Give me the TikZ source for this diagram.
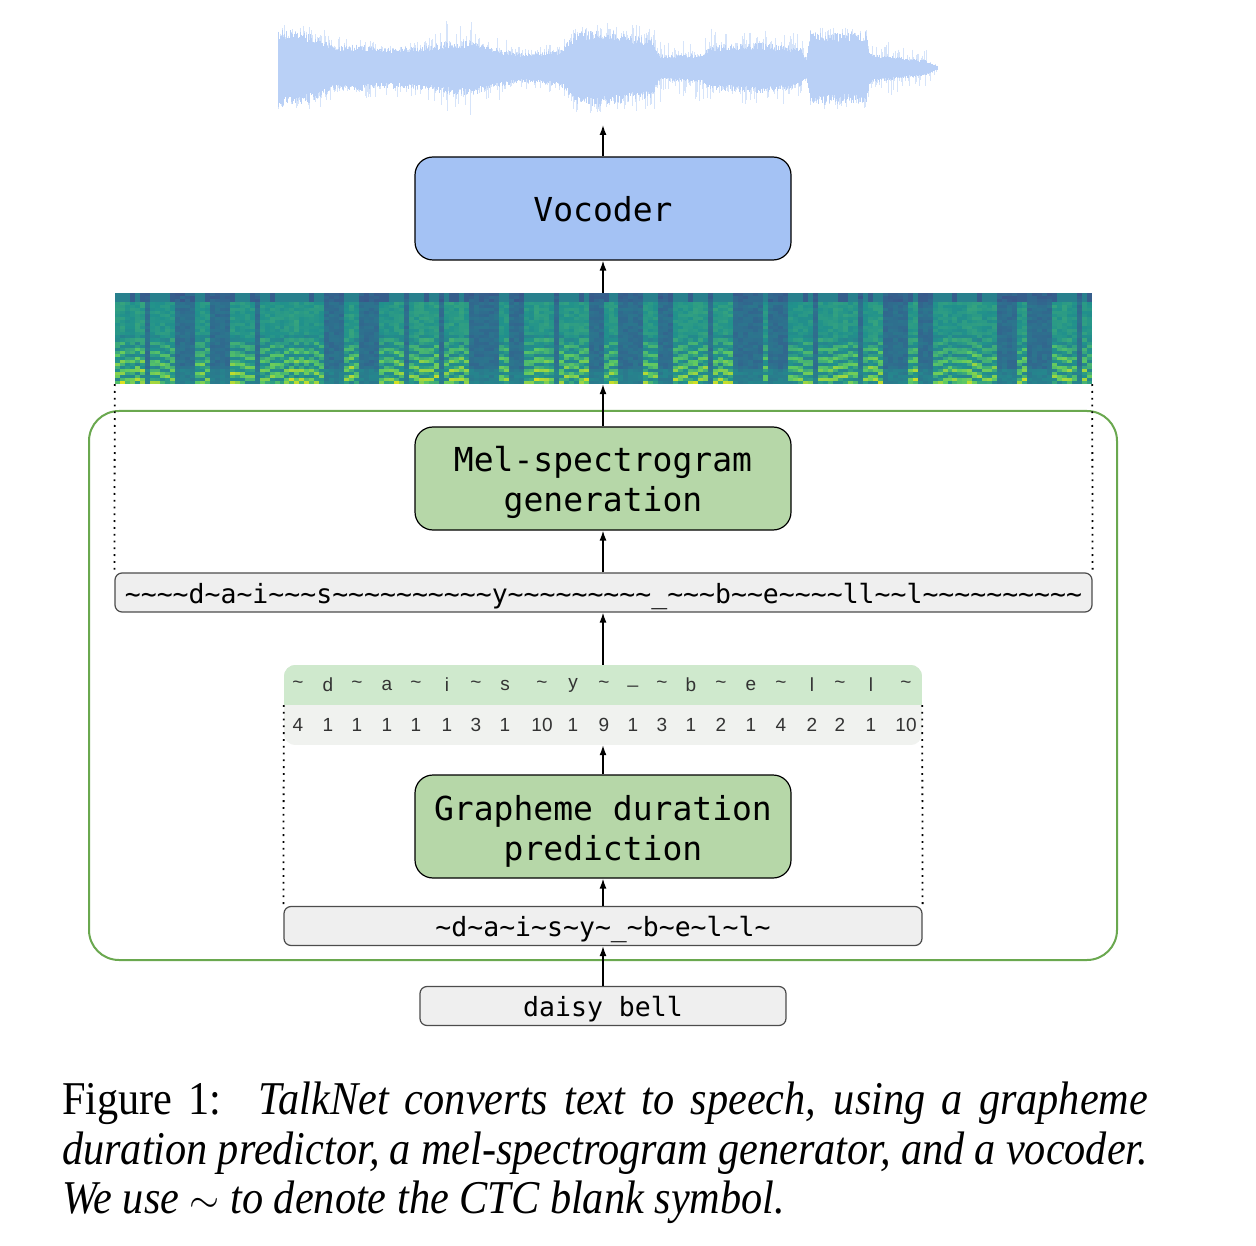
\documentclass[tikz,border=0pt]{standalone}
\usepackage{fontspec}
\setmainfont{Liberation Serif}
\newfontfamily\capfont[FakeStretch=0.9]{Liberation Serif}
\newfontfamily\monofont{DejaVu Sans Mono}
\newfontfamily\tabfont{Liberation Sans}
\usetikzlibrary{arrows.meta}
\definecolor{vocblue}{HTML}{A4C2F4}
\definecolor{melgreen}{HTML}{B6D7A8}
\definecolor{framegreen}{HTML}{6AA84F}
\definecolor{boxgray}{HTML}{EFEFEF}
\definecolor{tabgreen}{HTML}{CFE9CD}
\definecolor{tabgray}{HTML}{F0F2EF}
\definecolor{wavecol}{HTML}{B9D0F6}
\definecolor{wavelight}{HTML}{D6E4FA}
\definecolor{s0}{HTML}{443A83}
\definecolor{s1}{HTML}{31688E}
\definecolor{s2}{HTML}{21918C}
\definecolor{s3}{HTML}{5EC962}
\definecolor{s4}{HTML}{E8E419}
\tikzset{
  block/.style={draw=black, line width=1.2pt, rounded corners=18pt, minimum width=376pt,
    minimum height=103pt, inner sep=0pt},
  blocktext/.style={inner sep=0pt, align=center, font=\monofont\fontsize{33}{40}\selectfont},
  strbox/.style={draw=black!70, line width=1.2pt, fill=boxgray, rounded corners=7pt,
    minimum height=39pt, inner sep=0pt, text height=24pt, text depth=3pt,
    font=\monofont\fontsize{26.5}{30}\selectfont},
  arr/.style={-{Latex[length=10pt,width=7pt]}, line width=1.4pt},
  dotline/.style={line width=1.8pt, dash pattern=on 1.8pt off 5pt},
  cell/.style={inner sep=0pt, font=\tabfont\fontsize{19}{22}\selectfont, text=black!80},
  captext/.style={anchor=base west, inner sep=0pt, font=\capfont\fontsize{47}{50}\selectfont}
}
\begin{document}
\begin{tikzpicture}[x=1pt,y=-1pt]
\useasboundingbox (0,0) rectangle (1256,1246);
\pgfmathsetseed{11}
% ---------- waveform ----------
\foreach \xa/\xb/\aa/\ab/\sa/\sb in {278/300/40/38/46/44, 300/318/38/32/44/40, 318/335/32/22/40/36,
  335/360/22/24/36/30, 360/380/24/20/30/30, 380/420/20/22/30/28, 420/443/22/26/28/48,
  443/470/26/28/48/48, 470/504/28/18/48/30, 504/520/18/15/30/22, 520/560/15/18/22/26,
  560/575/18/36/26/44, 575/600/36/40/44/46, 600/625/40/34/46/44, 625/651/34/30/44/44,
  651/660/30/13/44/35, 660/700/13/14/35/35, 700/710/14/22/35/40, 710/760/22/26/40/38,
  760/800/26/20/38/36, 800/806/20/10/36/12, 806/810/10/37/12/42, 810/866/37/36/42/40,
  866/870/36/15/40/22, 870/885/15/13/22/30, 885/925/13/8/30/22, 925/937/8/2/22/3}{
  \foreach \x in {\xa,...,\xb}{
    \pgfmathsetmacro\f{(\x-\xa)/(\xb-\xa)}
    \pgfmathsetmacro\am{\aa+(\ab-\aa)*\f}
    \pgfmathsetmacro\spk{\sa+(\sb-\sa)*\f}
    \pgfmathsetmacro\h{\am*(0.72+0.28*rnd)}
    \pgfmathsetmacro\hb{\am*(0.72+0.28*rnd)}
    \pgfmathsetmacro\s{\h+(\spk-\h)*rnd^4}
    \pgfmathsetmacro\sbb{\hb+(\spk-\hb)*rnd^4}
    \draw[wavelight, line width=0.6pt] (\x,{68-\s}) -- (\x,{68+\sbb});
    \draw[wavecol, line width=0.9pt] (\x,{68-\h}) -- (\x,{68+\hb});
  }
}
\coordinate (wave) at (603,125);
% ---------- spectrogram ----------
\begin{scope}
\clip (115,293) rectangle (1092,384);
\foreach \c in {0,...,195}{
  \pgfmathsetmacro\xa{115+\c*4.985}
  \pgfmathsetmacro\xb{\xa+5.2}
  \pgfmathtruncatemacro\vd{(sin(\c*48)+0.9*sin(\c*13+30)+0.5*rand)>-0.35}
  \pgfmathsetmacro\en{0.7+0.3*rnd}
  \pgfmathsetmacro\ph{5*sin(\c*22)+2*rand}
  \pgfmathtruncatemacro\dk{rnd<0.25}
  \foreach \r in {0,...,29}{
    \pgfmathsetmacro\ya{293+\r*3.033}
    \pgfmathsetmacro\yb{\ya+3.2}
    \pgfmathsetmacro\fr{\r/29}
    \pgfmathsetmacro\hw{sqrt(max(0,(\fr-0.45)/0.55))}
    \pgfmathsetmacro\t{\vd ? (\fr>0.45 ? 0.43+0.55*\en*\hw*(0.5+0.5*cos((\r*3.033+\ph)*36)) + 0.03*rand : (\fr<0.08 ? (\dk ? 0.2 : 0.4) : 0.40+0.15*\en+0.04*rand)) : (\fr<0.1 ? 0.22+0.06*rand : 0.29+0.05*rand+0.1*(\fr>0.85))}
    \pgfmathsetmacro\t{max(0,min(0.999,\t))}
    \pgfmathtruncatemacro\sg{\t*4}
    \pgfmathtruncatemacro\pc{(\t*4-\sg)*100}
    \ifcase\sg \colorlet{cc}{s1!\pc!s0}\or \colorlet{cc}{s2!\pc!s1}\or \colorlet{cc}{s3!\pc!s2}\or \colorlet{cc}{s4!\pc!s3}\fi
    \fill[cc] (\xa,\ya) rectangle (\xb,\yb);
  }
}
\end{scope}
\node[minimum width=977pt, minimum height=91pt, inner sep=0pt] (spec) at (603.5,338.5) {};
% ---------- frame ----------
\draw[framegreen, line width=2pt, rounded corners=30pt] (89,411) rectangle (1117,960);
% ---------- blocks ----------
\node[block, fill=vocblue] (voc) at (603,208.5) {};
\node[blocktext] (voctxt) at ([yshift=-1pt]voc.center) {Vocoder};
\node[block, fill=melgreen] (mel) at (603,478.5) {};
\node[blocktext] (meltxt) at ([yshift=-4pt]mel.center) {Mel-spectrogram\\generation};
\node[block, fill=melgreen] (gdp) at (603,826.5) {};
\node[blocktext] (gdptxt) at ([yshift=-4.5pt]gdp.center) {Grapheme duration\\prediction};
\node[strbox, minimum width=977pt] (long) at (603.5,592.5)
  {\detokenize{~~~~d~a~i~~~s~~~~~~~~~~y~~~~~~~~~_~~~b~~e~~~~ll~~l~~~~~~~~~~}};
\node[strbox, minimum width=638pt] (gstr) at (603,926) {\detokenize{~d~a~i~s~y~_~b~e~l~l~}};
\node[strbox, minimum width=366pt] (daisy) at (603,1006) {daisy bell};
% ---------- table ----------
\node[minimum width=638pt, minimum height=80pt, inner sep=0pt] (tab) at (603,705) {};
\begin{scope}
\clip[rounded corners=12pt] (tab.north west) rectangle (tab.south east);
\fill[tabgray] (tab.north west) rectangle (tab.south east);
\fill[tabgreen] (tab.north west) rectangle (tab.east);
\end{scope}
\foreach \x/\g/\n [count=\i] in {298/\textasciitilde/4, 328/d/1, 357/\textasciitilde/1, 387/a/1,
   416/\textasciitilde/1, 447/i/1, 476/\textasciitilde/3, 505/s/1, 542/\textasciitilde/10,
   573/y/1, 604/\textasciitilde/9, 633/\_/1, 662/\textasciitilde/3, 691/b/1,
   721/\textasciitilde/2, 751/e/1, 781/\textasciitilde/4, 812/l/2, 840/\textasciitilde/2,
   871/l/1, 906/\textasciitilde/10}{
  \node[cell] (g\i) at (\x,685) {\g};
  \node[cell] (d\i) at (\x,725) {\n};
}
% ---------- dotted guides ----------
\draw[dotline] (spec.south west) -- (long.north west);
\draw[dotline] (spec.south east) -- (long.north east);
\draw[dotline] (tab.west) -- (gstr.north west);
\draw[dotline] (tab.east) -- (gstr.north east);
% ---------- arrows ----------
\draw[arr] (voc.north) -- (wave);
\draw[arr] (voc.south |- spec.north) -- (voc.south);
\draw[arr] (mel.north) -- (mel.north |- spec.south);
\draw[arr] (mel.south |- long.north) -- (mel.south);
\draw[arr] (mel.south |- tab.north) -- (mel.south |- long.south);
\draw[arr] (gdp.north) -- (gdp.north |- tab.south);
\draw[arr] (gdp.south |- gstr.north) -- (gdp.south);
\draw[arr] (daisy.north) -- (daisy.north |- gstr.south);
% ---------- caption ----------
\node[captext] (cap1) at (62,1114)
  {\hbox to 1086pt{Figure 1:\hspace{0.25em} \itshape TalkNet converts text to speech, using a grapheme}};
\node[captext] (cap2) at (62,1164)
  {\itshape\hbox to 1086pt{duration predictor, a mel-spectrogram generator, and a vocoder.}};
\node[captext] (cap3) at (62,1213)
  {\itshape We use \raisebox{1pt}{\resizebox{30pt}{!}{$\sim$}} to denote the CTC blank symbol.};
\end{tikzpicture}
\end{document}
